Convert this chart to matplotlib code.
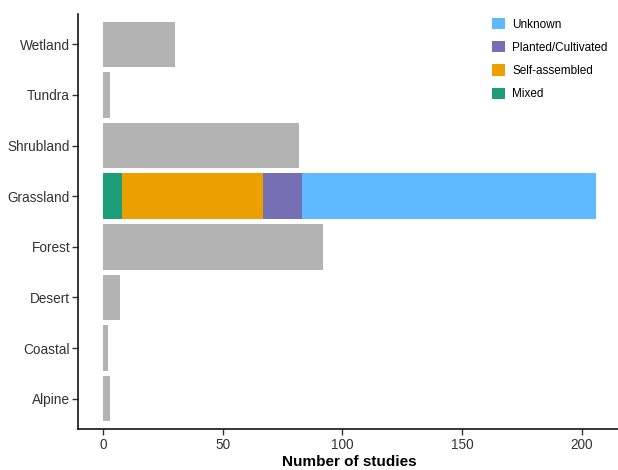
import matplotlib
matplotlib.use('Agg')
import matplotlib.pyplot as plt
from matplotlib.patches import Patch
import numpy as np

plt.rcParams['font.family'] = ['Liberation Sans', 'DejaVu Sans']

# habitat categories, bottom to top
habitats = ['Alpine', 'Coastal', 'Desert', 'Forest', 'Grassland', 'Shrubland', 'Tundra', 'Wetland']
# studies per habitat (Grassland split by community origin below)
totals = [3, 2, 7, 92, 0, 82, 3, 30]

origin_types = ['Mixed', 'Self-assembled', 'Planted/Cultivated', 'Unknown']
grassland_counts = [8, 59, 16, 123]
origin_colors = ['#1B9E77', '#EBA000', '#7570B3', '#5EB9FF']

W, H = 618, 470
fig = plt.figure(figsize=(W / 100, H / 100), dpi=100)
ax = fig.add_axes([78.35 / W, 41 / H, 542.3 / W, 415 / H])

y = np.arange(1, len(habitats) + 1)
ax.barh(y, totals, height=0.9, color='#B3B3B3')

gi = habitats.index('Grassland')
left = 0
for name, val, col in zip(origin_types, grassland_counts, origin_colors):
    ax.barh(y[gi], val, left=left, height=0.9, color=col)
    left += val

ax.set_xlim(-10.3, 216.3)
ax.set_ylim(0.4, 8.6)
ax.set_yticks(y)
ax.set_yticklabels(habitats)
ax.set_xticks([0, 50, 100, 150, 200])

for s in ['top', 'right']:
    ax.spines[s].set_visible(False)
for s in ['left', 'bottom']:
    ax.spines[s].set_linewidth(1.1)
ax.tick_params(axis='both', direction='out', length=4, width=1, labelsize=9.8,
               labelcolor='#333333', color='#333333')
ax.tick_params(axis='y', pad=2)
ax.tick_params(axis='x', pad=2.5)
ax.set_xlabel('Number of studies', fontsize=11, fontweight='bold', labelpad=2)

handles = [Patch(facecolor=c, label=n) for n, c in zip(origin_types, origin_colors)][::-1]
ax.legend(handles=handles, loc='upper right', frameon=False, fontsize=8.5,
          handlelength=1.1, handleheight=1.1, handletextpad=0.6, labelspacing=0.9,
          bbox_to_anchor=(0.987, 1.005), borderaxespad=0.1)

fig.savefig('out.png', dpi=100)
